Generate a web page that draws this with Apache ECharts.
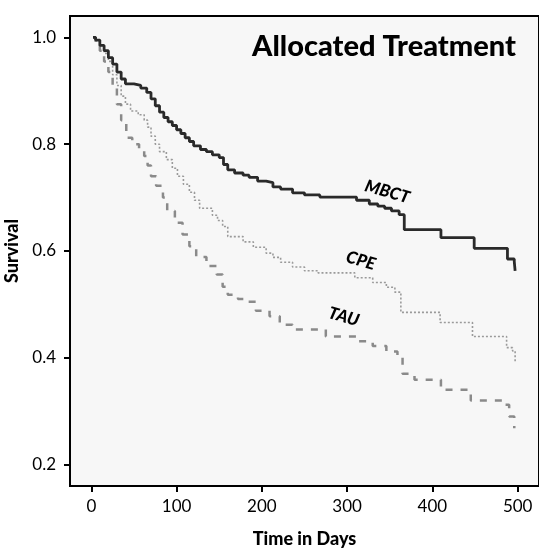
<!DOCTYPE html>
<html>
<head>
<meta charset="utf-8">
<title>Allocated Treatment</title>
<script src="https://cdn.jsdelivr.net/npm/echarts@6/dist/echarts.min.js"></script>
<style>
  html, body { margin: 0; padding: 0; background: #ffffff; }
  #chart { width: 539px; height: 548px; }
</style>
</head>
<body>
<div id="chart"></div>
<script>
// survival curves, [day, survival] at each step
var mbct = [[2, 1.0], [5, 0.995], [10, 0.985], [15, 0.975], [20, 0.962], [25, 0.95], [30, 0.935],
	[35, 0.922], [40, 0.913], [50, 0.91], [58, 0.905], [65, 0.897], [70, 0.885], [75, 0.872],
	[80, 0.86], [85, 0.85], [90, 0.842], [95, 0.835], [100, 0.827], [105, 0.82], [110, 0.812],
	[115, 0.805], [120, 0.797], [128, 0.79], [135, 0.786], [142, 0.78], [150, 0.775], [155, 0.762],
	[160, 0.752], [168, 0.746], [178, 0.742], [185, 0.738], [195, 0.731], [205, 0.728], [213, 0.72],
	[222, 0.716], [236, 0.709], [250, 0.705], [268, 0.701], [311, 0.695], [326, 0.688], [336, 0.684],
	[344, 0.68], [352, 0.675], [361, 0.668], [367, 0.64], [410, 0.625], [449, 0.605], [488, 0.585],
	[496, 0.58], [497, 0.563]];
var cpe = [[2, 1.0], [5, 0.995], [10, 0.985], [15, 0.97], [20, 0.955], [25, 0.93], [30, 0.91],
	[35, 0.89], [40, 0.875], [46, 0.862], [55, 0.855], [62, 0.845], [66, 0.832], [70, 0.815],
	[75, 0.8], [80, 0.786], [88, 0.771], [95, 0.755], [101, 0.74], [108, 0.725], [115, 0.71],
	[121, 0.695], [127, 0.68], [142, 0.667], [148, 0.657], [154, 0.646], [160, 0.627], [178, 0.617],
	[190, 0.607], [205, 0.596], [213, 0.588], [222, 0.579], [236, 0.57], [250, 0.563], [266, 0.559],
	[309, 0.55], [330, 0.541], [346, 0.532], [356, 0.523], [363, 0.485], [409, 0.466], [447, 0.44],
	[487, 0.419], [494, 0.413], [497, 0.39]];
var tau = [[2, 1.0], [5, 0.99], [10, 0.975], [15, 0.955], [20, 0.935], [25, 0.905], [30, 0.875],
	[35, 0.845], [41, 0.812], [48, 0.8], [56, 0.792], [62, 0.778], [66, 0.76], [70, 0.74],
	[76, 0.722], [84, 0.7], [89, 0.675], [98, 0.653], [107, 0.631], [115, 0.609], [123, 0.589],
	[135, 0.572], [147, 0.556], [154, 0.533], [160, 0.518], [172, 0.51], [182, 0.505], [193, 0.488],
	[209, 0.478], [221, 0.462], [236, 0.453], [275, 0.44], [312, 0.431], [330, 0.422], [346, 0.412],
	[359, 0.4], [365, 0.37], [379, 0.359], [410, 0.34], [445, 0.32], [482, 0.312], [490, 0.29],
	[496, 0.268]];
var xTicks = [0, 100, 200, 300, 400, 500];
var yTicks = [0.2, 0.4, 0.6, 0.8, 1.0];

var font = 'Lato';
var myChart = echarts.init(document.getElementById('chart'), null, { renderer: 'canvas' });

// label sitting on the curve, rotated along its slope
function curveLabel(text, at) {
	return {
		symbol: 'circle',
		symbolSize: 0,
		silent: true,
		label: {
			show: true,
			position: 'inside',
			formatter: text,
			rotate: -16,
			color: '#000',
			fontFamily: font,
			fontSize: 17,
			fontWeight: 900,
			fontStyle: 'italic'
		},
		data: [{ coord: at }]
	};
}

var option = {
	animation: false,
	backgroundColor: '#ffffff',
	title: {
		text: 'Allocated Treatment',
		right: 18,
		top: 27,
		textStyle: { fontFamily: font, fontSize: 29, fontWeight: 900, color: '#000' }
	},
	grid: {
		left: 70,
		right: 0,
		top: 16,
		bottom: 62,
		outerBoundsMode: 'none',
		containLabel: false,
		show: true,
		backgroundColor: '#f7f7f7',
		borderColor: '#000',
		borderWidth: 2
	},
	xAxis: {
		type: 'value',
		min: -25,
		max: 525,
		name: 'Time in Days',
		nameLocation: 'middle',
		nameGap: 44,
		nameTextStyle: { fontFamily: font, fontSize: 18, fontWeight: 900, color: '#000' },
		splitLine: { show: false },
		axisLine: { show: true, onZero: false, lineStyle: { color: '#000', width: 2 } },
		axisTick: { show: true, length: 6, lineStyle: { color: '#000', width: 2 }, customValues: xTicks },
		axisLabel: { fontFamily: font, fontSize: 17, color: '#000', margin: 12, customValues: xTicks }
	},
	yAxis: {
		type: 'value',
		min: 0.16,
		max: 1.04,
		name: 'Survival',
		nameLocation: 'middle',
		nameGap: 47,
		nameTextStyle: { fontFamily: font, fontSize: 18, fontWeight: 900, color: '#000' },
		splitLine: { show: false },
		axisLine: { show: true, onZero: false, lineStyle: { color: '#000', width: 2 } },
		axisTick: { show: true, length: 6, lineStyle: { color: '#000', width: 2 }, customValues: yTicks },
		axisLabel: {
			fontFamily: font, fontSize: 17, color: '#000', margin: 14, customValues: yTicks,
			formatter: function (v) { return v.toFixed(1); }
		}
	},
	series: [{
		name: 'TAU',
		type: 'line',
		step: 'end',
		data: tau,
		showSymbol: false,
		lineStyle: { color: '#8a8a8a', width: 2.5, type: [7, 8] },
		markPoint: curveLabel('TAU', [296, 0.477])
	}, {
		name: 'CPE',
		type: 'line',
		step: 'end',
		data: cpe,
		showSymbol: false,
		lineStyle: { color: '#9a9a9a', width: 1.6, type: [2, 2] },
		markPoint: curveLabel('CPE', [316, 0.582])
	}, {
		name: 'MBCT',
		type: 'line',
		step: 'end',
		data: mbct,
		showSymbol: false,
		lineStyle: { color: '#2a2a2a', width: 2.8 },
		markPoint: curveLabel('MBCT', [347, 0.711])
	}]
};
myChart.setOption(option);
</script>
</body>
</html>
